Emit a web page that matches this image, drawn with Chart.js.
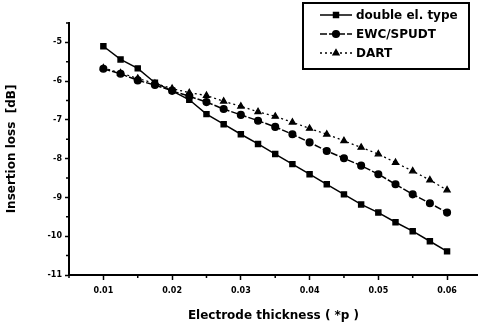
<!DOCTYPE html>
<html>
<head>
<meta charset="utf-8">
<script src="https://cdn.jsdelivr.net/npm/chart.js@4.4.1/dist/chart.umd.min.js"></script>
<style>
  html, body { margin: 0; padding: 0; background: #fff; }
</style>
</head>
<body>
<canvas id="chart" width="478" height="324"></canvas>
<script>
// electrode thickness (x pitch)
const thickness = [0.01, 0.0125, 0.015, 0.0175, 0.02, 0.0225, 0.025, 0.0275, 0.03, 0.0325, 0.035,
  0.0375, 0.04, 0.0425, 0.045, 0.0475, 0.05, 0.0525, 0.055, 0.0575, 0.06]

// insertion loss [dB]
const doubleEl = [-5.10, -5.44, -5.67, -6.04, -6.25, -6.48, -6.85, -7.11, -7.37, -7.62, -7.88,
  -8.14, -8.40, -8.66, -8.92, -9.18, -9.39, -9.64, -9.87, -10.13, -10.39]
const ewcSpudt = [-5.68, -5.81, -5.98, -6.10, -6.25, -6.39, -6.54, -6.72, -6.87, -7.02, -7.18,
  -7.37, -7.58, -7.80, -7.99, -8.18, -8.40, -8.66, -8.92, -9.15, -9.39]
const dart = [-5.66, -5.79, -5.93, -6.06, -6.19, -6.30, -6.37, -6.52, -6.65, -6.79, -6.91,
  -7.06, -7.22, -7.37, -7.54, -7.71, -7.88, -8.10, -8.32, -8.55, -8.81]

const seriesNames = ['double el. type', 'EWC/SPUDT', 'DART']

const xTicks = [0.01, 0.02, 0.03, 0.04, 0.05, 0.06]
const xMinor = [0.005, 0.015, 0.025, 0.035, 0.045, 0.055]
const yTicks = [-5, -6, -7, -8, -9, -10, -11]
const yMinor = [-4.5, -5.5, -6.5, -7.5, -8.5, -9.5, -10.5]

const FONT = '"DejaVu Sans", Verdana, sans-serif'

function pts(ys){
  return thickness.map((x, i) => ({x: x, y: ys[i]}))
}

// small minor tick marks on both axes
const minorTicks = {
  id: 'minorTicks',
  afterDraw(chart){
    const ctx = chart.ctx
    const xs = chart.scales.x, ys = chart.scales.y
    const a = chart.chartArea
    ctx.save()
    ctx.strokeStyle = '#000'
    ctx.lineWidth = 1.5
    ctx.beginPath()
    yMinor.forEach(v => {
      const p = ys.getPixelForValue(v)
      ctx.moveTo(a.left - 3, p); ctx.lineTo(a.left, p)
    })
    xMinor.forEach(v => {
      const p = xs.getPixelForValue(v)
      if (p < a.left) return
      ctx.moveTo(p, a.bottom); ctx.lineTo(p, a.bottom + 3)
    })
    ctx.stroke()
    ctx.restore()
  }
}

// boxed legend in the top right corner
const boxLegend = {
  id: 'boxLegend',
  afterDraw(chart){
    const ctx = chart.ctx
    const x0 = 303, y0 = 3, w = 166, h = 66
    ctx.save()
    ctx.fillStyle = '#fff'
    ctx.fillRect(x0, y0, w, h)
    ctx.strokeStyle = '#000'
    ctx.lineWidth = 2
    ctx.strokeRect(x0, y0, w, h)
    const rows = [15, 34, 53]
    chart.data.datasets.forEach((ds, i) => {
      const y = rows[i]
      ctx.strokeStyle = '#000'
      ctx.fillStyle = '#000'
      ctx.lineWidth = ds.borderWidth
      ctx.setLineDash(ds.borderDash || [])
      ctx.beginPath()
      ctx.moveTo(320, y); ctx.lineTo(352, y)
      ctx.stroke()
      ctx.setLineDash([])
      Chart.helpers.drawPoint(ctx, {pointStyle: ds.pointStyle, radius: ds.pointRadius, borderWidth: 1}, 336, y)
      ctx.font = 'bold 12px ' + FONT
      ctx.textBaseline = 'middle'
      ctx.fillText(ds.label, 356, y + 1)
    })
    ctx.restore()
  }
}

const ctx = document.getElementById('chart')
new Chart(ctx, {
  type: 'scatter',
  data: {
    datasets: [
      {
        label: seriesNames[0], data: pts(doubleEl), showLine: true,
        borderColor: '#000', backgroundColor: '#000', borderWidth: 1.5,
        pointStyle: 'rect', pointRadius: 3.5
      },
      {
        label: seriesNames[1], data: pts(ewcSpudt), showLine: true,
        borderColor: '#000', backgroundColor: '#000', borderWidth: 1.5, borderDash: [7, 2],
        pointStyle: 'circle', pointRadius: 3.3
      },
      {
        label: seriesNames[2], data: pts(dart), showLine: true,
        borderColor: '#000', backgroundColor: '#000', borderWidth: 1.3, borderDash: [2, 3],
        pointStyle: 'triangle', pointRadius: 3.5
      }
    ]
  },
  options: {
    responsive: false,
    animation: false,
    devicePixelRatio: 1,
    layout: { autoPadding: false, padding: { top: 23, right: 0, left: 0, bottom: 0 } },
    plugins: {
      legend: { display: false },
      tooltip: { enabled: false }
    },
    scales: {
      x: {
        type: 'linear', min: 0.005, max: 0.0645,
        afterBuildTicks: s => { s.ticks = xTicks.map(v => ({value: v})) },
        afterFit: s => { s.height = 49 },
        grid: { drawOnChartArea: false, drawTicks: true, tickLength: 5, color: '#000', tickWidth: 1.5 },
        border: { display: true, color: '#000', width: 2 },
        ticks: {
          color: '#000', padding: 6, maxRotation: 0,
          font: { family: FONT, size: 8, weight: 'bold' },
          callback: v => v.toFixed(2)
        },
        title: {
          display: true, text: 'Electrode thickness ( *p )', color: '#000',
          font: { family: FONT, size: 12, weight: 'bold' },
          padding: { top: 0, bottom: 1 }
        }
      },
      y: {
        type: 'linear', min: -11, max: -4.5,
        afterBuildTicks: s => { s.ticks = yTicks.map(v => ({value: v})) },
        afterFit: s => { s.width = 69 },
        grid: { drawOnChartArea: false, drawTicks: true, tickLength: 4, color: '#000', tickWidth: 1.5 },
        border: { display: true, color: '#000', width: 2 },
        ticks: {
          color: '#000', padding: 3,
          font: { family: FONT, size: 8, weight: 'bold' }
        },
        title: {
          display: true, text: 'Insertion loss  [dB]', color: '#000',
          font: { family: FONT, size: 12, weight: 'bold' },
          padding: { top: 5, bottom: 0 }
        }
      }
    }
  },
  plugins: [minorTicks, boxLegend]
})
</script>
</body>
</html>
